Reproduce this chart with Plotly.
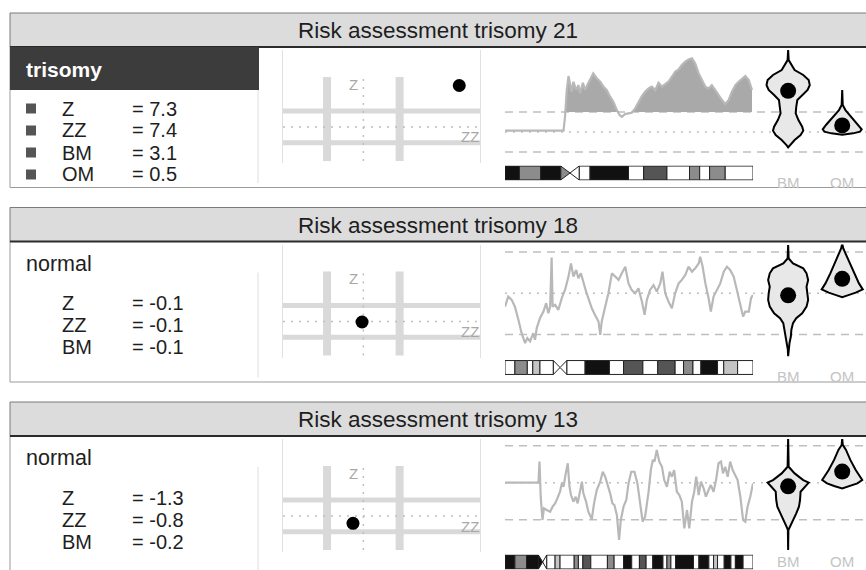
import numpy as np
import plotly.graph_objects as go

# =============================================================================
# DATA
# =============================================================================
PANEL_TITLES = ["Risk assessment trisomy 21", "Risk assessment trisomy 18", "Risk assessment trisomy 13"]
PANEL_CALLS = ["trisomy", "normal", "normal"]
SCORE_LABELS = [["Z", "ZZ", "BM", "OM"], ["Z", "ZZ", "BM"], ["Z", "ZZ", "BM"]]

Z_SCORES = [7.3, -0.1, -1.3]
ZZ_SCORES = [7.4, -0.1, -0.8]
BM_SCORES = [3.1, -0.1, -0.2]
OM_SCORES = [0.5, 0.7, 0.6]
Z_THRESHOLD = 2.8

# chromosome profiles: position along chromosome (0-100) and normalised score
PROFILE21_POS = [0.0, 23.6, 24.2, 24.9, 25.6, 26.2, 26.9, 27.6, 28.7, 29.6, 30.3, 31.4, 32.3, 33.2, 34.3, 35.6,
                 37.0, 38.4, 39.7, 41.0, 42.4, 43.7, 45.1, 46.2, 47.1, 48.4, 49.8, 51.1, 52.5, 53.8, 55.2, 56.5,
                 57.9, 59.2, 60.6, 61.9, 63.3, 64.6, 65.9, 67.3, 68.6, 70.0, 71.3, 72.7, 74.0, 75.4, 76.7, 78.1,
                 79.4, 80.8, 82.1, 83.4, 84.8, 86.1, 87.5, 88.8, 90.2, 91.5, 92.9, 94.2, 95.6, 96.9, 98.3, 99.6]
PROFILE21_VAL = [0.10, 0.10, 1.15, 3.16, 4.21, 3.66, 3.03, 3.78, 3.16, 3.53, 2.91, 3.71, 3.16, 3.53, 3.91, 4.41,
                 4.04, 3.78, 3.41, 3.16, 2.66, 2.28, 1.65, 1.28, 1.15, 1.35, 1.40, 1.45, 1.78, 2.28, 2.71, 3.03,
                 3.28, 3.41, 3.16, 3.71, 3.41, 3.61, 3.78, 4.16, 4.54, 4.71, 5.04, 5.29, 5.46, 5.54, 5.16, 4.41,
                 3.91, 3.41, 3.28, 3.53, 3.16, 2.78, 2.41, 2.11, 2.41, 3.03, 3.53, 3.78, 4.04, 4.21, 3.91, 3.16]

PROFILE18_POS = [0.0, 1.3, 2.7, 4.0, 5.4, 6.7, 8.1, 9.0, 10.1, 11.4, 12.1, 12.8, 14.1, 15.5, 16.6, 17.5, 18.2,
                 18.8, 19.2, 20.2, 21.5, 22.9, 24.2, 25.6, 26.6, 27.6, 28.7, 29.6, 30.6, 31.6, 32.7, 33.6, 35.0,
                 36.3, 37.7, 38.4, 39.0, 40.4, 41.7, 43.1, 44.4, 45.8, 47.1, 48.5, 49.8, 51.1, 52.5, 53.8, 55.2,
                 56.3, 57.2, 58.5, 59.9, 61.2, 62.6, 63.5, 64.6, 65.9, 67.3, 68.6, 70.0, 71.3, 72.7, 74.0, 75.4,
                 76.7, 78.1, 78.7, 79.7, 80.8, 82.1, 83.0, 84.1, 85.5, 86.8, 88.2, 89.5, 90.8, 92.2, 93.5, 94.9,
                 96.0, 96.9, 98.3, 99.2, 100.0]
PROFILE18_VAL = [-0.65, -0.16, -0.32, -0.65, -1.29, -1.94, -2.42, -2.18, -2.34, -1.94, -2.26, -1.69, -1.21,
                 -0.89, -0.48, -0.97, -0.65, 1.74, -0.65, -0.56, -0.81, -0.24, 0.16, 0.81, 1.45, 0.81, 1.13,
                 0.73, 0.97, 0.48, 0.08, -0.24, -0.73, -1.05, -1.37, -2.02, -1.37, -0.65, 0.00, 0.97, 0.81,
                 0.65, 0.97, 1.29, 0.48, 0.16, 0.00, 0.24, -0.40, -1.05, -0.32, 0.16, 0.40, 0.08, 0.48, 1.05,
                 0.00, -0.40, -0.73, 0.00, 0.48, 0.65, 0.89, 1.29, 1.05, 1.21, 1.45, 1.77, 1.29, 0.48, -0.24,
                 -0.89, -0.16, 0.16, 0.48, 1.05, 1.29, 1.13, 0.81, 0.16, -0.56, -1.13, -0.89, -0.89, -0.24, -0.08]

PROFILE13_POS = [0.0, 13.5, 13.9, 14.4, 15.1, 15.7, 16.8, 18.2, 19.2, 20.2, 21.1, 22.2, 22.9, 23.6, 24.5, 25.3,
                 26.0, 26.6, 27.6, 28.5, 29.3, 30.3, 31.0, 31.6, 32.7, 33.6, 35.0, 35.9, 37.0, 38.4, 39.4, 40.4,
                 41.3, 42.4, 43.3, 44.1, 45.1, 46.0, 46.7, 47.8, 48.9, 49.8, 50.9, 52.2, 53.4, 54.5, 55.5, 56.5,
                 57.9, 58.8, 59.6, 60.3, 61.2, 62.2, 63.3, 64.2, 65.3, 66.4, 67.3, 68.2, 69.3, 70.3, 71.3, 72.3,
                 73.4, 74.3, 75.4, 76.3, 77.1, 78.1, 79.0, 80.1, 81.0, 82.1, 83.0, 84.1, 85.1, 86.1, 87.1, 87.9,
                 88.8, 89.8, 90.8, 91.8, 92.9, 93.8, 94.9, 96.0, 96.9, 97.8, 98.9, 100.0]
PROFILE13_VAL = [0.00, 0.00, 1.14, -0.76, -2.02, -1.39, -1.48, -1.57, -1.30, -1.12, -0.85, -0.49, -0.04, -0.22,
                 0.50, 1.05, -0.22, -0.67, -1.03, -0.76, -1.12, -0.40, 0.05, -0.58, -1.03, -1.57, -1.98, -1.12,
                 -0.40, 0.05, 0.59, 0.32, -0.04, -0.58, -1.12, -1.21, -1.75, -3.10, -2.02, -1.30, -0.94, -0.04,
                 0.59, 0.59, -0.04, -1.30, -2.11, -1.84, -0.49, 0.68, 1.23, 1.14, 1.77, 1.14, 0.86, 0.14, -0.22,
                 0.59, 0.32, 0.68, -0.49, -0.67, -1.03, -2.47, -1.48, -2.47, -1.03, -0.49, 0.32, -0.67, 0.05,
                 -0.31, -0.76, -0.40, -0.13, -0.49, 0.14, 1.05, 1.14, 0.50, 0.86, 0.32, 1.14, 0.68, 0.41, 0.14,
                 -0.76, -2.02, -2.11, -1.30, -0.76, -0.04]

PROFILE_LIMITS = [1.5, 2.0, 2.0]

# ideogram bands: start, end, stain
BANDS21_START = [0.0, 5.8, 14.4, 22.5, 26.2, 29.9, 34.3, 49.8, 55.9, 65.3, 74.4, 78.5, 82.5, 88.8]
BANDS21_END = [5.8, 14.4, 22.5, 26.2, 29.9, 34.3, 49.8, 55.9, 65.3, 74.4, 78.5, 82.5, 88.8, 100.0]
BANDS21_STAIN = ["gpos100", "gpos50", "gpos100", "gpos50", "gneg", "gneg", "gpos100", "gneg", "gpos75",
                 "gneg", "gpos50", "gneg", "gpos50", "gneg"]
CEN21 = [22.5, 26.2, 29.9]

BANDS18_START = [0.0, 4.0, 9.0, 11.2, 14.1, 19.5, 22.2, 24.9, 32.3, 42.1, 47.8, 55.6, 61.6, 68.6, 72.0, 75.8,
                 79.0, 85.7, 88.2, 93.8]
BANDS18_END = [4.0, 9.0, 11.2, 14.1, 19.5, 22.2, 24.9, 32.3, 42.1, 47.8, 55.6, 61.6, 68.6, 72.0, 75.8, 79.0,
               85.7, 88.2, 93.8, 100.0]
BANDS18_STAIN = ["gneg", "gpos50", "gneg", "gpos25", "gneg", "gneg", "gneg", "gneg", "gpos100", "gneg",
                 "gpos75", "gneg", "gpos75", "gneg", "gpos50", "gneg", "gpos100", "gneg", "gpos25", "gneg"]
CEN18 = [19.5, 22.2, 24.9]

BANDS13_START = [0.0, 4.0, 8.7, 13.5, 15.2, 16.8, 20.2, 22.2, 27.9, 29.6, 31.4, 34.6, 41.3, 44.0, 47.8, 51.1,
                 54.2, 56.9, 59.6, 63.7, 65.3, 66.9, 68.8, 76.0, 78.2, 82.2, 84.1, 85.7, 88.4, 91.1, 92.9, 96.0]
BANDS13_END = [4.0, 8.7, 13.5, 15.2, 16.8, 20.2, 22.2, 27.9, 29.6, 31.4, 34.6, 41.3, 44.0, 47.8, 51.1, 54.2,
               56.9, 59.6, 63.7, 65.3, 66.9, 68.8, 76.0, 78.2, 82.2, 84.1, 85.7, 88.4, 91.1, 92.9, 96.0, 100.0]
BANDS13_STAIN = ["gpos100", "gpos50", "gpos100", "gpos100", "gneg", "gneg", "gpos25", "gneg", "gpos50", "gneg",
                 "gpos75", "gneg", "gpos50", "gneg", "gpos100", "gneg", "gpos75", "gneg", "gpos100", "gneg",
                 "gpos50", "gneg", "gpos100", "gneg", "gpos100", "gneg", "gpos25", "gneg", "gpos100", "gneg",
                 "gpos100", "gneg"]
CEN13 = [13.5, 15.2, 16.8]

# reference-distribution outlines (score, half width) for BM and OM
VIOLIN21_BM_Y = [6.17, 5.41, 4.66, 4.29, 3.91, 3.53, 3.16, 2.78, 2.41, 1.90, 1.40, 0.90, 0.40, 0.10, -0.23, -0.60, -0.98, -1.15]
VIOLIN21_BM_W = [0, 0.01, 0.12, 0.28, 0.38, 0.40, 0.36, 0.26, 0.17, 0.15, 0.14, 0.19, 0.26, 0.28, 0.23, 0.12, 0.03, 0]
VIOLIN21_OM_Y = [3.16, 2.03, 1.65, 1.28, 0.90, 0.53, 0.20, 0.03, -0.10, -0.20]
VIOLIN21_OM_W = [0, 0.01, 0.06, 0.14, 0.22, 0.30, 0.36, 0.33, 0.20, 0]

VIOLIN18_BM_Y = [2.34, 1.69, 1.45, 1.21, 0.97, 0.65, 0.32, 0.00, -0.32, -0.65, -0.97, -1.21, -1.45, -1.77, -2.10, -2.42, -2.74, -3.06]
VIOLIN18_BM_W = [0, 0.01, 0.09, 0.28, 0.34, 0.37, 0.34, 0.36, 0.37, 0.34, 0.26, 0.15, 0.09, 0.06, 0.05, 0.025, 0.006, 0]
VIOLIN18_OM_Y = [2.42, 2.18, 1.94, 1.45, 0.97, 0.48, 0.19, 0.03, -0.10, -0.19]
VIOLIN18_OM_W = [0, 0.02, 0.06, 0.14, 0.22, 0.31, 0.38, 0.25, 0.10, 0]

VIOLIN13_BM_Y = [2.40, 0.86, 0.50, 0.14, 0.00, -0.22, -0.49, -0.94, -1.30, -1.66, -2.02, -2.38, -2.56, -3.64]
VIOLIN13_BM_W = [0, 0.01, 0.12, 0.28, 0.38, 0.31, 0.23, 0.22, 0.20, 0.15, 0.09, 0.03, 0.005, 0]
VIOLIN13_OM_Y = [2.40, 2.04, 1.77, 1.23, 0.68, 0.14, -0.04, -0.18, -0.31]
VIOLIN13_OM_W = [0, 0.01, 0.07, 0.15, 0.25, 0.37, 0.28, 0.15, 0]

# =============================================================================
# STYLE / LAYOUT
# =============================================================================
W, H = 866, 570
PANEL_STEP = 194.5
FONT = "Liberation Sans, Arial, Helvetica, sans-serif"
PROFILE_YRANGES = [[-2.33, 6.17], [-3.12, 2.37], [-3.75, 2.36]]
STAIN_COLORS = {"gneg": "#ffffff", "gpos25": "#c4c4c4", "gpos50": "#8c8c8c",
                "gpos75": "#555555", "gpos100": "#111111"}
GREY_LINE = "#bfbfbf"


def px(x):
    return x / W


def py(y):
    return 1 - y / H


def xa(k):
    return "x" if k == 1 else f"x{k}"


def ya(k):
    return "y" if k == 1 else f"y{k}"


def axkey(axis, k):
    return axis + ("" if k == 1 else str(k))


panels = [
    dict(pos=PROFILE21_POS, val=PROFILE21_VAL, bands=(BANDS21_START, BANDS21_END, BANDS21_STAIN), cen=CEN21,
         vio=((VIOLIN21_BM_Y, VIOLIN21_BM_W), (VIOLIN21_OM_Y, VIOLIN21_OM_W))),
    dict(pos=PROFILE18_POS, val=PROFILE18_VAL, bands=(BANDS18_START, BANDS18_END, BANDS18_STAIN), cen=CEN18,
         vio=((VIOLIN18_BM_Y, VIOLIN18_BM_W), (VIOLIN18_OM_Y, VIOLIN18_OM_W))),
    dict(pos=PROFILE13_POS, val=PROFILE13_VAL, bands=(BANDS13_START, BANDS13_END, BANDS13_STAIN), cen=CEN13,
         vio=((VIOLIN13_BM_Y, VIOLIN13_BM_W), (VIOLIN13_OM_Y, VIOLIN13_OM_W))),
]

fig = go.Figure()
layout = {}
shapes = []
annotations = []


def text(t, x, y, size, color="#1e1e1e", anchor="left", bold=False, xref="paper"):
    annotations.append(dict(text=f"<b>{t}</b>" if bold else t, x=x, y=y, xref=xref, yref="paper",
                            showarrow=False, xanchor=anchor, yanchor="middle",
                            font=dict(size=size, color=color, family=FONT)))


for i, p in enumerate(panels):
    off = i * PANEL_STEP
    ks, kp, kv, ki = 4 * i + 1, 4 * i + 2, 4 * i + 3, 4 * i + 4
    lim = PROFILE_LIMITS[i]

    # ---- frame & header ----
    shapes.append(dict(type="rect", xref="paper", yref="paper", x0=px(10), x1=px(880),
                       y0=py(187.5 + off), y1=py(47 + off), fillcolor="white",
                       line=dict(color="#9a9a9a", width=1), layer="below"))
    shapes.append(dict(type="rect", xref="paper", yref="paper", x0=px(10), x1=px(880),
                       y0=py(47 + off), y1=py(13 + off), fillcolor="#dcdcdc",
                       line=dict(color="#7a7a7a", width=1), layer="below"))
    shapes.append(dict(type="line", xref="paper", yref="paper", x0=px(10), x1=px(880),
                       y0=py(47 + off), y1=py(47 + off), line=dict(color="#2b2b2b", width=2), layer="below"))
    shapes.append(dict(type="line", xref="paper", yref="paper", x0=px(258), x1=px(258),
                       y0=py(78 + off), y1=py(183 + off), line=dict(color="#dedede", width=1), layer="below"))
    text(PANEL_TITLES[i], px(438), py(30.5 + off), 22.5, anchor="center")

    # ---- call & scores ----
    if PANEL_CALLS[i] == "trisomy":
        shapes.append(dict(type="rect", xref="paper", yref="paper", x0=px(10), x1=px(259),
                           y0=py(90 + off), y1=py(47 + off), fillcolor="#3c3c3c", line=dict(width=0),
                           layer="below"))
        text(PANEL_CALLS[i], px(24), py(69 + off), 21, color="white", bold=True)
    else:
        text(PANEL_CALLS[i], px(24), py(69 + off), 21.5)
    values = [Z_SCORES[i], ZZ_SCORES[i], BM_SCORES[i], OM_SCORES[i]]
    for j, lab in enumerate(SCORE_LABELS[i]):
        yrow = 108.5 + 22 * j + off
        if PANEL_CALLS[i] == "trisomy":
            shapes.append(dict(type="rect", xref="paper", yref="paper", x0=px(26), x1=px(36),
                               y0=py(yrow + 5), y1=py(yrow - 5), fillcolor="#555555", line=dict(width=0)))
        text(lab, px(60), py(yrow), 20)
        text(f"= {values[j]:.1f}", px(130), py(yrow), 20)

    # ---- Z / ZZ scatter ----
    layout[axkey("xaxis", ks)] = dict(domain=[px(283), px(480)], range=[-6.2, 9.0], visible=False)
    layout[axkey("yaxis", ks)] = dict(domain=[py(161 + off), py(77 + off)], range=[-6.0, 8.8], visible=False)
    for t in (-Z_THRESHOLD, Z_THRESHOLD):
        shapes.append(dict(type="line", xref=xa(ks), yref=f"{ya(ks)} domain", x0=t, x1=t, y0=0, y1=1,
                           line=dict(color="#d9d9d9", width=8), layer="below"))
        shapes.append(dict(type="line", xref=f"{xa(ks)} domain", yref=ya(ks), x0=0, x1=1, y0=t, y1=t,
                           line=dict(color="#d9d9d9", width=5), layer="below"))
    shapes.append(dict(type="line", xref=xa(ks), yref=f"{ya(ks)} domain", x0=0, x1=0, y0=0, y1=1,
                       line=dict(color=GREY_LINE, width=1.5, dash="2px,6px"), layer="below"))
    shapes.append(dict(type="line", xref=f"{xa(ks)} domain", yref=ya(ks), x0=0, x1=1, y0=0, y1=0,
                       line=dict(color=GREY_LINE, width=1.5, dash="2px,6px"), layer="below"))
    text("Z", px(353), py(84 + off), 15, color="#a8a8a8", anchor="center")
    text("ZZ", px(470), py(137 + off), 15, color="#a8a8a8", anchor="center")
    fig.add_trace(go.Scatter(x=[ZZ_SCORES[i]], y=[Z_SCORES[i]], mode="markers", cliponaxis=False,
                             marker=dict(size=13, color="black"), xaxis=xa(ks), yaxis=ya(ks)))

    # ---- chromosome profile ----
    ydom = [py(163 + off), py(50 + off)]
    layout[axkey("xaxis", kp)] = dict(domain=[px(505), px(753)], range=[0, 100], visible=False)
    layout[axkey("yaxis", kp)] = dict(domain=ydom, range=PROFILE_YRANGES[i], showline=True, mirror=True,
                                      linecolor="#e0e0e0", linewidth=1, showgrid=False, zeroline=False,
                                      showticklabels=False, ticks="")
    for yv, dash in ((lim, "8px,6px"), (-lim, "8px,6px"), (0, "2px,6px")):
        shapes.append(dict(type="line", xref="paper", yref=ya(kp), x0=px(505), x1=1, y0=yv, y1=yv,
                           line=dict(color=GREY_LINE, width=1.5, dash=dash), layer="below"))
    pos = np.array(p["pos"])
    val = np.array(p["val"])
    fig.add_trace(go.Scatter(x=pos, y=np.full(len(pos), lim), mode="lines", line=dict(width=0),
                             xaxis=xa(kp), yaxis=ya(kp), hoverinfo="skip"))
    fig.add_trace(go.Scatter(x=pos, y=np.maximum(val, lim), mode="lines", line=dict(width=0),
                             fill="tonexty", fillcolor="#a9a9a9", xaxis=xa(kp), yaxis=ya(kp), hoverinfo="skip"))
    fig.add_trace(go.Scatter(x=pos, y=val, mode="lines", line=dict(color="#b8b8b8", width=2.2),
                             xaxis=xa(kp), yaxis=ya(kp)))

    # ---- BM / OM distributions ----
    layout[axkey("xaxis", kv)] = dict(domain=[px(753), 1.0], range=[-0.65, 1.44], visible=False)
    layout[axkey("yaxis", kv)] = dict(domain=ydom, range=PROFILE_YRANGES[i], visible=False)
    label_y = min(182 + off, 561)
    for c, ((vy, vw), score, lab) in enumerate(zip(p["vio"], (BM_SCORES[i], OM_SCORES[i]), ("BM", "OM"))):
        xs = [c + w for w in vw] + [c - w for w in vw[::-1]]
        ys = list(vy) + list(vy[::-1])
        fig.add_trace(go.Scatter(x=xs, y=ys, mode="lines", fill="toself", fillcolor="#e8e8e8",
                                 line=dict(color="black", width=2), xaxis=xa(kv), yaxis=ya(kv)))
        fig.add_trace(go.Scatter(x=[c], y=[score], mode="markers", marker=dict(size=16, color="black"),
                                 xaxis=xa(kv), yaxis=ya(kv), cliponaxis=False))
        text(lab, c, py(label_y), 15, color="#c4c4c4", anchor="center", xref=xa(kv))

    # ---- ideogram ----
    layout[axkey("xaxis", ki)] = dict(domain=[px(505), px(753)], range=[0, 100], visible=False)
    layout[axkey("yaxis", ki)] = dict(domain=[py(180.5 + off), py(165.5 + off)], range=[-0.54, 0.54],
                                      visible=False)
    starts, ends, stains = p["bands"]
    c0, cm, c1 = p["cen"]
    arm = [k for k in range(len(starts)) if not (starts[k] >= c0 - 1e-6 and ends[k] <= c1 + 1e-6)]
    fig.add_trace(go.Bar(orientation="h", base=[starts[k] for k in arm],
                         x=[ends[k] - starts[k] for k in arm], y=[0] * len(arm), width=1,
                         marker=dict(color=[STAIN_COLORS[stains[k]] for k in arm],
                                     line=dict(color="#222222", width=1)),
                         xaxis=xa(ki), yaxis=ya(ki)))
    for k in range(len(starts)):
        if k in arm:
            continue
        s, e = starts[k], ends[k]
        if e <= cm + 1e-6:
            tx, ty = [s, e, s, s], [0.5, 0, -0.5, 0.5]
        else:
            tx, ty = [e, s, e, e], [0.5, 0, -0.5, 0.5]
        fig.add_trace(go.Scatter(x=tx, y=ty, mode="lines", fill="toself",
                                 fillcolor=STAIN_COLORS[stains[k]], line=dict(color="#222222", width=1),
                                 xaxis=xa(ki), yaxis=ya(ki)))

fig.update_layout(
    width=W, height=H, margin=dict(l=0, r=0, t=0, b=0),
    paper_bgcolor="white", plot_bgcolor="rgba(0,0,0,0)",
    showlegend=False, hovermode=False, barmode="overlay",
    font=dict(family=FONT),
    shapes=shapes, annotations=annotations, **layout
)

# drop the default page margin so the figure sits at the window's top-left corner
fig.write_html("out.html", config={"displayModeBar": False},
               post_script="document.body.style.margin='0';")
